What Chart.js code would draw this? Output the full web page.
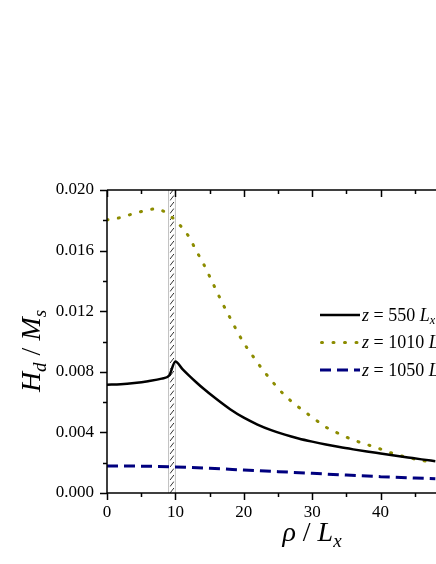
<!DOCTYPE html>
<html>
<head>
<meta charset="utf-8">
<script src="https://cdn.jsdelivr.net/npm/chart.js@4/dist/chart.umd.min.js"></script>
<style>
  html, body { margin: 0; padding: 0; background: #fff; overflow: hidden; }
  #wrap { width: 436px; height: 564px; }
</style>
</head>
<body>
<div id="wrap"><canvas id="hdChart" width="436" height="564"></canvas></div>
<script>
// values (rho / Lx vs Hd / Ms)
const rho550 = [0, 2, 4, 6, 8, 9.1, 10, 11, 12, 13, 14, 16, 18, 20, 22, 24, 26, 28, 30, 32, 34, 36, 38, 40, 42, 44, 46, 48];
const h550 = [0.00715, 0.00718, 0.00726, 0.00738, 0.00755, 0.00776, 0.00868, 0.0082, 0.00775, 0.00733, 0.00693, 0.0062, 0.00553, 0.00497, 0.00452, 0.00415, 0.00385, 0.0036, 0.00339, 0.0032, 0.00303, 0.00288, 0.00274, 0.00261, 0.00248, 0.00235, 0.00222, 0.0021];

const rho1010 = [0, 2, 4, 6, 7, 8, 9, 10, 11, 12, 13, 14, 15, 16, 17, 18, 19, 20, 21, 22, 23, 24, 25, 26, 27, 28, 30, 32, 34, 36, 38, 40, 42, 44, 46, 48];
const h1010 = [0.01803, 0.01818, 0.01846, 0.01868, 0.01876, 0.01866, 0.01838, 0.0180, 0.0175, 0.0169, 0.01603, 0.01522, 0.0143, 0.01335, 0.01242, 0.01156, 0.0107, 0.0099, 0.00925, 0.0086, 0.008, 0.00745, 0.00691, 0.00645, 0.00603, 0.00567, 0.005, 0.00435, 0.0039, 0.0035, 0.0032, 0.0029, 0.00258, 0.00234, 0.00215, 0.002];

const rho1050 = [0, 5, 10, 15, 20, 25, 30, 35, 40, 45, 48];
const h1050 = [0.00178, 0.00177, 0.00172, 0.00163, 0.00152, 0.00141, 0.0013, 0.00118, 0.00108, 0.00099, 0.00094];

const seriesNames = ['550', '1010', '1050'];
const xMajor = [0, 10, 20, 30, 40];
const xMinor = [5, 15, 25, 35, 45];
const yMajor = [0, 0.004, 0.008, 0.012, 0.016, 0.020];
const yMinor = [0.002, 0.006, 0.010, 0.014, 0.018];
const band = [9.0, 10.0]; // hatched region

const SERIF = '"Liberation Serif", "DejaVu Serif", serif';
const colors = ['#000000', '#8c8c00', '#00007f'];
const dashes = [[], [1, 10.5], [11, 6]];

function pts(xs, ys) {
  return xs.map((x, i) => ({ x: x, y: ys[i] }));
}

// draw a run of text pieces: [text, italic, sub]
function drawPieces(ctx, pieces, x, y, size) {
  pieces.forEach(p => {
    const sz = p[2] ? size * 0.68 : size;
    ctx.font = (p[1] ? 'italic ' : '') + sz + 'px ' + SERIF;
    ctx.fillText(p[0], x, y + (p[2] ? size * 0.22 : 0));
    x += ctx.measureText(p[0]).width;
  });
  return x;
}
function piecesWidth(ctx, pieces, size) {
  let w = 0;
  pieces.forEach(p => {
    const sz = p[2] ? size * 0.68 : size;
    ctx.font = (p[1] ? 'italic ' : '') + sz + 'px ' + SERIF;
    w += ctx.measureText(p[0]).width;
  });
  return w;
}

const hatchPlugin = {
  id: 'hatch',
  beforeDatasetsDraw(chart) {
    const { ctx, chartArea, scales } = chart;
    const l = scales.x.getPixelForValue(band[0]);
    const r = scales.x.getPixelForValue(band[1]);
    ctx.save();
    ctx.strokeStyle = '#c0c0c0';
    ctx.lineWidth = 1;
    ctx.beginPath();
    ctx.moveTo(l, chartArea.top); ctx.lineTo(l, chartArea.bottom);
    ctx.moveTo(r, chartArea.top); ctx.lineTo(r, chartArea.bottom);
    ctx.stroke();
    ctx.beginPath();
    ctx.rect(l + 1, chartArea.top, r - l - 2, chartArea.bottom - chartArea.top);
    ctx.clip();
    ctx.strokeStyle = '#333';
    ctx.lineWidth = 1;
    ctx.beginPath();
    for (let y = chartArea.top; y < chartArea.bottom + 8; y += 6.5) {
      ctx.moveTo(l + 1.5, y + 4);
      ctx.lineTo(r - 1.5, y - 1);
    }
    ctx.stroke();
    ctx.restore();
  }
};

const framePlugin = {
  id: 'frame',
  afterDraw(chart) {
    const { ctx, chartArea, scales } = chart;
    const x = scales.x, y = scales.y;
    ctx.save();
    ctx.strokeStyle = '#000';
    ctx.lineWidth = 1.5;
    ctx.beginPath();
    ctx.moveTo(chartArea.left, chartArea.top);
    ctx.lineTo(chartArea.right + 2, chartArea.top);
    ctx.moveTo(chartArea.left, chartArea.top);
    ctx.lineTo(chartArea.left, chartArea.bottom);
    ctx.lineTo(chartArea.right + 2, chartArea.bottom);
    xMajor.concat(xMinor).forEach(v => {
      const px = Math.round(x.getPixelForValue(v)) + 0.5;
      const len = xMajor.includes(v) ? 7 : 4;
      ctx.moveTo(px, chartArea.bottom); ctx.lineTo(px, chartArea.bottom + len);
      ctx.moveTo(px, chartArea.top); ctx.lineTo(px, chartArea.top + len);
    });
    yMajor.concat(yMinor).forEach(v => {
      const py = Math.round(y.getPixelForValue(v)) + 0.5;
      const len = yMajor.includes(v) ? 7 : 4;
      ctx.moveTo(chartArea.left, py); ctx.lineTo(chartArea.left - len, py);
    });
    ctx.stroke();

    // axis titles
    ctx.fillStyle = '#000';
    ctx.textBaseline = 'alphabetic';
    ctx.textAlign = 'left';
    const xt = [['\u03C1', true, false], [' / ', false, false], ['L', true, false], ['x', true, true]];
    const xw = piecesWidth(ctx, xt, 28);
    drawPieces(ctx, xt, 312 - xw / 2, 541, 28);

    const yt = [['H', true, false], ['d', true, true], [' / ', false, false], ['M', true, false], ['s', true, true]];
    const yw = piecesWidth(ctx, yt, 28);
    ctx.save();
    ctx.translate(40, 351);
    ctx.rotate(-Math.PI / 2);
    drawPieces(ctx, yt, -yw / 2, 0, 28);
    ctx.restore();

    // legend
    const rowY = [315, 342.5, 370];
    seriesNames.forEach((name, i) => {
      const ly = rowY[i];
      ctx.save();
      ctx.strokeStyle = colors[i];
      ctx.lineWidth = i === 0 ? 2.5 : 3;
      ctx.lineCap = i === 1 ? 'round' : 'butt';
      ctx.setLineDash(dashes[i]);
      ctx.beginPath();
      ctx.moveTo(i === 1 ? 321.5 : 320, ly);
      ctx.lineTo(360, ly);
      ctx.stroke();
      ctx.restore();
      drawPieces(ctx, [['z', true, false], [' = ' + name + ' ', false, false], ['L', true, false], ['x', true, true]], 362, ly + 5.5, 18);
    });
    ctx.restore();
  }
};

const ctx = document.getElementById('hdChart').getContext('2d');
new Chart(ctx, {
  type: 'line',
  data: {
    datasets: [
      { label: 'z = 550 Lx', data: pts(rho550, h550) },
      { label: 'z = 1010 Lx', data: pts(rho1010, h1010) },
      { label: 'z = 1050 Lx', data: pts(rho1050, h1050) }
    ].map((d, i) => Object.assign(d, {
      borderColor: colors[i],
      borderWidth: i === 0 ? 2.5 : 3,
      borderDash: dashes[i],
      borderCapStyle: i === 1 ? 'round' : 'butt',
      pointRadius: 0,
      fill: false,
      cubicInterpolationMode: 'monotone'
    }))
  },
  options: {
    responsive: false,
    devicePixelRatio: 1,
    animation: false,
    layout: { padding: { top: 190, left: 0, right: 0, bottom: 0 } },
    plugins: { legend: { display: false }, tooltip: { enabled: false } },
    scales: {
      x: {
        type: 'linear',
        min: 0,
        max: 48.1,
        afterFit: s => { s.height = 71; },
        grid: { display: false },
        border: { display: false },
        ticks: {
          stepSize: 10,
          includeBounds: false,
          maxRotation: 0,
          padding: 1,
          color: '#000',
          font: { family: SERIF, size: 17 }
        }
      },
      y: {
        min: 0,
        max: 0.020,
        afterFit: s => { s.width = 107; },
        grid: { display: false },
        border: { display: false },
        ticks: {
          stepSize: 0.004,
          padding: 5,
          color: '#000',
          font: { family: SERIF, size: 17 },
          callback: v => v.toFixed(3)
        }
      }
    }
  },
  plugins: [hatchPlugin, framePlugin]
});
</script>
</body>
</html>
